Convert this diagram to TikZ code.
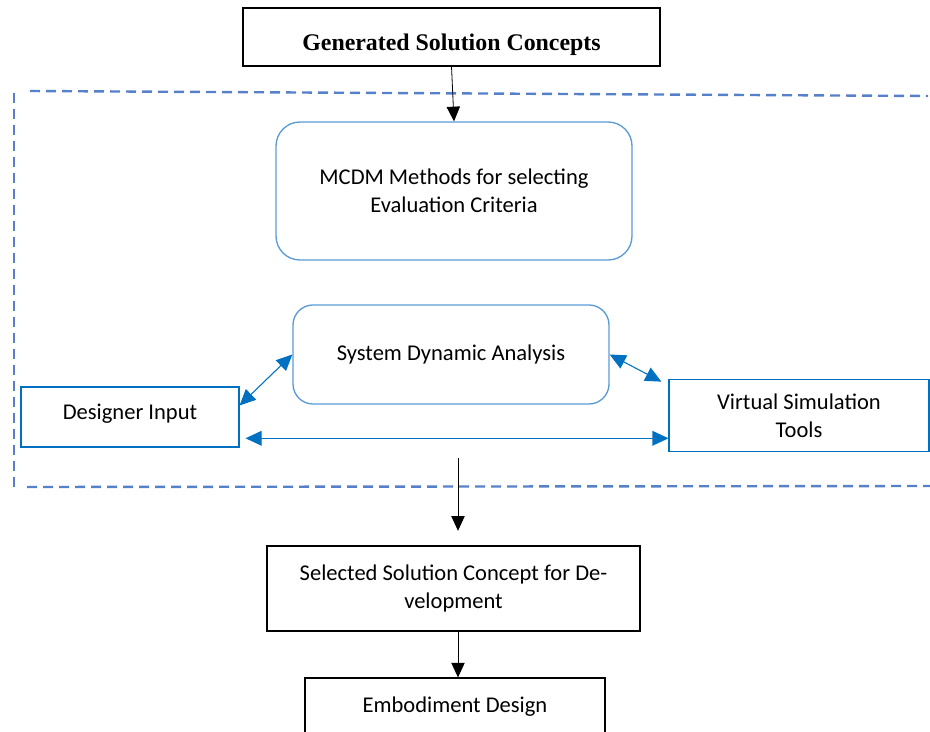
\documentclass[tikz,border=0pt]{standalone}
\usepackage{fontspec}
\setmainfont{Carlito}
\newfontfamily\headfont{Liberation Serif}
\usetikzlibrary{arrows.meta}
\definecolor{frameblue}{RGB}{68,114,196}
\definecolor{boxblue}{RGB}{91,155,213}
\definecolor{linkblue}{RGB}{0,112,192}
\tikzstyle{box}=[rectangle, draw=black, line width=0.8pt, inner sep=0pt, anchor=center, align=center, font=\fontsize{16.9}{21}\selectfont]
\tikzstyle{rbox}=[box, draw=boxblue, line width=1pt]
\tikzstyle{bbox}=[box, draw=linkblue]
\tikzstyle{flow}=[-{Triangle[length=11pt,width=10pt]}, line width=0.6pt]
\tikzstyle{link}=[{Triangle[length=12pt,width=11pt]}-{Triangle[length=12pt,width=11pt]}, draw=linkblue, line width=0.8pt]
\tikzstyle{frame}=[draw=frameblue!90, line width=1.8pt, dash pattern=on 7.5pt off 4.5pt]

\begin{document}
\begin{tikzpicture}[x=0.75pt, y=-0.75pt]
	\useasboundingbox (0,0) rectangle (930,731);

	% dashed frame, open on the right
	\draw[frame] (30,91) -- (928,96);
	\draw[frame] (14,93) -- (14,487);
	\draw[frame] (27,487) -- (930,486);

	\node[box, minimum width=312.75pt, minimum height=43.5pt, text height=24pt, text depth=3pt, font=\headfont\bfseries\fontsize{17.9}{21}\selectfont](gen) at (451.5,37){Generated Solution Concepts};
	\node[rbox, rounded corners=18pt, minimum width=267pt, minimum height=103.5pt](mcdm) at (454,191){MCDM Methods for selecting\\Evaluation Criteria};
	\node[rbox, rounded corners=15pt, minimum width=237pt, minimum height=74.25pt](sda) at (451,354.5){System Dynamic Analysis};
	\node[bbox, minimum width=163.5pt, minimum height=45pt, text height=12pt, text depth=8pt](dinput) at (130,417){Designer Input};
	\node[bbox, minimum width=195pt, minimum height=54pt](vst) at (799,415.5){Virtual Simulation\\Tools};
	\node[box, minimum width=279.75pt, minimum height=63.75pt](sel) at (453.5,588.5){Selected Solution Concept for De-\\velopment};
	\node[box, minimum width=225pt, minimum height=43.5pt](emb) at (455,707){Embodiment Design};

	\coordinate (split) at (458,458);

	\draw[flow] (gen.south) -- (mcdm.north);
	\draw[flow, shorten >=11pt] (split) -- (split |- sel.north);
	\draw[flow] (sel.south -| split) -- (emb.north -| split);

	\draw[link] (dinput.6) -- (sda.west);
	\draw[link, shorten >=6pt] (sda.east) -- (vst.167);
	\draw[link, shorten <=4.5pt] (dinput.-11) -- (dinput.-11 -| vst.west);
	
\end{tikzpicture}
\end{document}
